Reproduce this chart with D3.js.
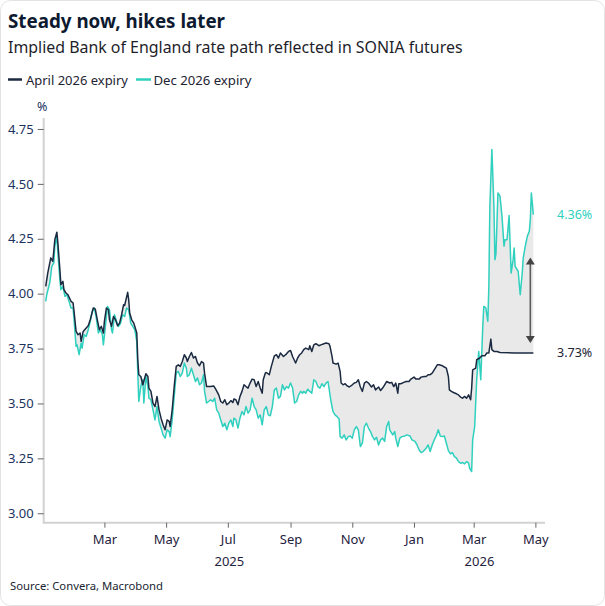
<!DOCTYPE html>
<html><head><meta charset="utf-8">
<script src="https://cdn.jsdelivr.net/npm/d3@7"></script>
<style>body{margin:0;background:#fff}svg{display:block}text{font-family:"Noto Sans","Open Sans",sans-serif}</style>
</head><body><svg id="c" width="605" height="606"></svg>
<script>
const aprilSeries = [["2025-01-02",4.033],["2025-01-04",4.094],["2025-01-07",4.163],["2025-01-09",4.147],["2025-01-11",4.246],["2025-01-13",4.280],["2025-01-14",4.231],["2025-01-16",4.109],["2025-01-17",4.041],["2025-01-19",4.056],["2025-01-20",4.018],["2025-01-22",4.003],["2025-01-24",3.995],["2025-01-27",3.965],["2025-01-29",3.958],["2025-01-30",3.919],["2025-02-01",3.828],["2025-02-03",3.813],["2025-02-05",3.821],["2025-02-06",3.783],["2025-02-08",3.828],["2025-02-11",3.844],["2025-02-13",3.854],["2025-02-15",3.881],["2025-02-18",3.935],["2025-02-20",3.930],["2025-02-22",3.881],["2025-02-24",3.836],["2025-02-26",3.851],["2025-02-28",3.821],["2025-03-01",3.874],["2025-03-03",3.935],["2025-03-05",3.927],["2025-03-06",3.881],["2025-03-08",3.851],["2025-03-10",3.896],["2025-03-12",3.881],["2025-03-14",3.854],["2025-03-16",3.866],["2025-03-18",3.904],["2025-03-20",3.950],["2025-03-21",3.946],["2025-03-24",4.006],["2025-03-25",3.973],["2025-03-26",3.912],["2025-03-28",3.881],["2025-03-30",3.866],["2025-04-02",3.821],["2025-04-03",3.700],["2025-04-04",3.631],["2025-04-06",3.623],["2025-04-08",3.585],["2025-04-11",3.635],["2025-04-13",3.623],["2025-04-14",3.570],["2025-04-16",3.555],["2025-04-18",3.502],["2025-04-20",3.486],["2025-04-22",3.532],["2025-04-24",3.471],["2025-04-26",3.433],["2025-04-28",3.403],["2025-04-30",3.380],["2025-05-02",3.425],["2025-05-04",3.418],["2025-05-05",3.395],["2025-05-07",3.471],["2025-05-09",3.577],["2025-05-11",3.669],["2025-05-13",3.676],["2025-05-15",3.669],["2025-05-17",3.691],["2025-05-19",3.722],["2025-05-21",3.707],["2025-05-22",3.691],["2025-05-24",3.714],["2025-05-26",3.732],["2025-05-28",3.707],["2025-05-30",3.714],["2025-06-01",3.684],["2025-06-03",3.672],["2025-06-05",3.691],["2025-06-07",3.684],["2025-06-08",3.638],["2025-06-10",3.577],["2025-06-12",3.577],["2025-06-14",3.577],["2025-06-17",3.580],["2025-06-19",3.565],["2025-06-22",3.539],["2025-06-24",3.509],["2025-06-26",3.502],["2025-06-28",3.517],["2025-06-30",3.494],["2025-07-02",3.502],["2025-07-04",3.513],["2025-07-06",3.504],["2025-07-07",3.520],["2025-07-09",3.517],["2025-07-11",3.494],["2025-07-13",3.532],["2025-07-15",3.555],["2025-07-17",3.585],["2025-07-19",3.577],["2025-07-21",3.570],["2025-07-23",3.593],["2025-07-25",3.611],["2025-07-27",3.608],["2025-07-29",3.577],["2025-07-31",3.600],["2025-08-02",3.570],["2025-08-04",3.547],["2025-08-05",3.608],["2025-08-07",3.638],["2025-08-08",3.641],["2025-08-11",3.631],["2025-08-13",3.669],["2025-08-16",3.717],["2025-08-18",3.722],["2025-08-20",3.707],["2025-08-22",3.730],["2025-08-25",3.714],["2025-08-28",3.726],["2025-08-30",3.737],["2025-09-01",3.741],["2025-09-03",3.714],["2025-09-06",3.684],["2025-09-08",3.707],["2025-09-10",3.722],["2025-09-12",3.730],["2025-09-14",3.745],["2025-09-16",3.752],["2025-09-19",3.745],["2025-09-20",3.763],["2025-09-22",3.737],["2025-09-24",3.767],["2025-09-26",3.772],["2025-09-29",3.763],["2025-10-01",3.767],["2025-10-04",3.772],["2025-10-06",3.775],["2025-10-09",3.772],["2025-10-10",3.760],["2025-10-12",3.714],["2025-10-13",3.684],["2025-10-16",3.679],["2025-10-18",3.684],["2025-10-20",3.646],["2025-10-21",3.593],["2025-10-23",3.585],["2025-10-25",3.590],["2025-10-27",3.580],["2025-10-29",3.575],["2025-11-01",3.585],["2025-11-03",3.593],["2025-11-05",3.596],["2025-11-07",3.608],["2025-11-09",3.575],["2025-11-11",3.555],["2025-11-13",3.593],["2025-11-15",3.600],["2025-11-17",3.593],["2025-11-20",3.575],["2025-11-22",3.585],["2025-11-24",3.562],["2025-11-27",3.575],["2025-11-29",3.559],["2025-12-01",3.570],["2025-12-03",3.585],["2025-12-05",3.600],["2025-12-08",3.593],["2025-12-10",3.596],["2025-12-12",3.577],["2025-12-14",3.593],["2025-12-16",3.547],["2025-12-17",3.590],["2025-12-19",3.590],["2025-12-22",3.596],["2025-12-24",3.600],["2025-12-27",3.600],["2025-12-29",3.611],["2026-01-01",3.620],["2026-01-03",3.611],["2026-01-06",3.611],["2026-01-08",3.620],["2026-01-11",3.623],["2026-01-13",3.623],["2026-01-15",3.631],["2026-01-17",3.631],["2026-01-19",3.638],["2026-01-21",3.653],["2026-01-24",3.676],["2026-01-26",3.676],["2026-01-29",3.672],["2026-01-31",3.666],["2026-02-02",3.661],["2026-02-04",3.623],["2026-02-05",3.562],["2026-02-07",3.555],["2026-02-09",3.550],["2026-02-12",3.544],["2026-02-14",3.539],["2026-02-16",3.529],["2026-02-18",3.524],["2026-02-20",3.532],["2026-02-22",3.524],["2026-02-24",3.539],["2026-02-26",3.517],["2026-02-27",3.570],["2026-02-28",3.653],["2026-03-03",3.661],["2026-03-04",3.699],["2026-03-07",3.707],["2026-03-09",3.717],["2026-03-12",3.717],["2026-03-14",3.730],["2026-03-16",3.730],["2026-03-18",3.793],["2026-03-19",3.745],["2026-03-21",3.737],["2026-03-24",3.737],["2026-03-27",3.732],["2026-04-10",3.730],["2026-04-20",3.730],["2026-04-29",3.730]];

const decSeries = [["2025-01-02",3.965],["2025-01-03",3.995],["2025-01-06",4.049],["2025-01-08",4.124],["2025-01-10",4.140],["2025-01-11",4.216],["2025-01-13",4.261],["2025-01-14",4.186],["2025-01-16",4.064],["2025-01-17",4.018],["2025-01-19",4.033],["2025-01-21",3.988],["2025-01-23",3.995],["2025-01-25",3.965],["2025-01-27",3.935],["2025-01-29",3.935],["2025-01-30",3.881],["2025-02-01",3.760],["2025-02-02",3.767],["2025-02-04",3.722],["2025-02-06",3.775],["2025-02-07",3.752],["2025-02-09",3.813],["2025-02-11",3.805],["2025-02-13",3.836],["2025-02-15",3.874],["2025-02-17",3.919],["2025-02-19",3.935],["2025-02-21",3.889],["2025-02-23",3.821],["2025-02-25",3.836],["2025-02-27",3.813],["2025-02-28",3.767],["2025-03-02",3.851],["2025-03-04",3.942],["2025-03-06",3.927],["2025-03-08",3.836],["2025-03-09",3.821],["2025-03-11",3.904],["2025-03-13",3.874],["2025-03-15",3.851],["2025-03-17",3.866],["2025-03-19",3.904],["2025-03-21",3.896],["2025-03-23",3.935],["2025-03-25",3.927],["2025-03-27",3.866],["2025-03-29",3.851],["2025-03-31",3.836],["2025-04-02",3.783],["2025-04-03",3.638],["2025-04-04",3.509],["2025-04-06",3.577],["2025-04-08",3.608],["2025-04-09",3.502],["2025-04-11",3.623],["2025-04-13",3.577],["2025-04-14",3.524],["2025-04-16",3.517],["2025-04-18",3.471],["2025-04-20",3.425],["2025-04-22",3.486],["2025-04-24",3.418],["2025-04-26",3.388],["2025-04-28",3.357],["2025-04-30",3.342],["2025-05-02",3.380],["2025-05-04",3.372],["2025-05-05",3.349],["2025-05-07",3.425],["2025-05-09",3.532],["2025-05-11",3.638],["2025-05-13",3.646],["2025-05-15",3.623],["2025-05-17",3.638],["2025-05-19",3.684],["2025-05-21",3.661],["2025-05-22",3.623],["2025-05-24",3.631],["2025-05-26",3.661],["2025-05-28",3.631],["2025-05-30",3.600],["2025-06-01",3.616],["2025-06-03",3.585],["2025-06-05",3.593],["2025-06-07",3.631],["2025-06-08",3.555],["2025-06-10",3.502],["2025-06-12",3.509],["2025-06-14",3.517],["2025-06-16",3.509],["2025-06-18",3.524],["2025-06-20",3.471],["2025-06-22",3.456],["2025-06-24",3.425],["2025-06-26",3.395],["2025-06-28",3.410],["2025-06-30",3.380],["2025-07-02",3.410],["2025-07-04",3.425],["2025-07-06",3.395],["2025-07-07",3.433],["2025-07-09",3.425],["2025-07-11",3.388],["2025-07-13",3.433],["2025-07-15",3.463],["2025-07-17",3.448],["2025-07-19",3.486],["2025-07-21",3.456],["2025-07-23",3.471],["2025-07-25",3.524],["2025-07-27",3.486],["2025-07-29",3.471],["2025-07-31",3.433],["2025-08-02",3.448],["2025-08-04",3.403],["2025-08-06",3.471],["2025-08-08",3.486],["2025-08-10",3.448],["2025-08-12",3.444],["2025-08-14",3.486],["2025-08-16",3.562],["2025-08-18",3.570],["2025-08-20",3.524],["2025-08-22",3.532],["2025-08-24",3.585],["2025-08-26",3.562],["2025-08-28",3.577],["2025-08-30",3.570],["2025-09-01",3.593],["2025-09-03",3.570],["2025-09-05",3.502],["2025-09-07",3.509],["2025-09-09",3.539],["2025-09-11",3.555],["2025-09-13",3.547],["2025-09-14",3.555],["2025-09-16",3.547],["2025-09-18",3.565],["2025-09-20",3.555],["2025-09-22",3.547],["2025-09-24",3.608],["2025-09-26",3.600],["2025-09-28",3.577],["2025-09-30",3.570],["2025-10-02",3.590],["2025-10-04",3.577],["2025-10-06",3.593],["2025-10-08",3.600],["2025-10-09",3.570],["2025-10-11",3.509],["2025-10-13",3.463],["2025-10-15",3.448],["2025-10-17",3.440],["2025-10-19",3.429],["2025-10-20",3.349],["2025-10-22",3.342],["2025-10-24",3.357],["2025-10-26",3.334],["2025-10-28",3.349],["2025-10-30",3.352],["2025-11-01",3.342],["2025-11-03",3.380],["2025-11-05",3.395],["2025-11-07",3.380],["2025-11-09",3.304],["2025-11-11",3.319],["2025-11-13",3.395],["2025-11-15",3.410],["2025-11-17",3.388],["2025-11-19",3.372],["2025-11-21",3.349],["2025-11-23",3.334],["2025-11-25",3.346],["2025-11-27",3.311],["2025-11-29",3.334],["2025-12-01",3.342],["2025-12-03",3.327],["2025-12-05",3.395],["2025-12-07",3.418],["2025-12-08",3.380],["2025-12-11",3.357],["2025-12-13",3.372],["2025-12-14",3.342],["2025-12-16",3.304],["2025-12-18",3.342],["2025-12-20",3.349],["2025-12-23",3.352],["2025-12-25",3.357],["2025-12-28",3.352],["2025-12-30",3.334],["2026-01-02",3.327],["2026-01-04",3.311],["2026-01-06",3.289],["2026-01-08",3.276],["2026-01-10",3.281],["2026-01-13",3.296],["2026-01-15",3.311],["2026-01-17",3.281],["2026-01-19",3.311],["2026-01-21",3.334],["2026-01-23",3.352],["2026-01-25",3.380],["2026-01-27",3.352],["2026-01-29",3.349],["2026-01-31",3.352],["2026-02-02",3.319],["2026-02-04",3.285],["2026-02-06",3.270],["2026-02-08",3.276],["2026-02-10",3.258],["2026-02-12",3.251],["2026-02-14",3.235],["2026-02-16",3.228],["2026-02-18",3.231],["2026-02-20",3.225],["2026-02-22",3.235],["2026-02-24",3.228],["2026-02-25",3.205],["2026-02-27",3.190],["2026-02-28",3.334],["2026-03-02",3.395],["2026-03-03",3.502],["2026-03-04",3.608],["2026-03-06",3.737],["2026-03-08",3.608],["2026-03-09",3.730],["2026-03-10",3.851],["2026-03-11",3.942],["2026-03-13",3.935],["2026-03-15",3.874],["2026-03-16",4.033],["2026-03-17",4.398],["2026-03-19",4.657],["2026-03-21",4.398],["2026-03-22",4.155],["2026-03-23",4.180],["2026-03-25",4.459],["2026-03-27",4.444],["2026-03-29",4.352],["2026-03-31",4.216],["2026-04-01",4.246],["2026-04-03",4.246],["2026-04-05",4.356],["2026-04-06",4.231],["2026-04-07",4.094],["2026-04-09",4.155],["2026-04-10",4.208],["2026-04-11",4.124],["2026-04-13",4.109],["2026-04-14",4.102],["2026-04-16",3.995],["2026-04-18",4.094],["2026-04-19",4.163],["2026-04-21",4.216],["2026-04-23",4.261],["2026-04-25",4.284],["2026-04-26",4.337],["2026-04-27",4.459],["2026-04-29",4.360]];

const seriesNames = ["April 2026 expiry","Dec 2026 expiry"];
const yTickValues = [3.00,3.25,3.50,3.75,4.00,4.25,4.50,4.75];
const monthTickDates = ["2025-03-01","2025-05-01","2025-07-01","2025-09-01","2025-11-01","2026-01-01","2026-03-01","2026-05-01"];
const yearLabelValues = ["2025","2026"];
const xDomainDates = ["2024-12-31","2026-05-10T12:00"];
const yDomainValues = [2.957,4.80];
const endLabelValues = [4.36,3.73];
const arrowSpan = {date:"2026-04-26", from:4.165, to:3.775};
const titleText = "Steady now, hikes later";
const subtitleText = "Implied Bank of England rate path reflected in SONIA futures";
const sourceText = "Source: Convera, Macrobond";

const NAVY = "#1b2a41", TEAL = "#2fd0be", FILL = "#e9e9e9";
const parse = s => new Date(s.length>10 ? s : s+"T00:00");
const april = aprilSeries.map(d=>({date:parse(d[0]),v:d[1]}));
const dec = decSeries.map(d=>({date:parse(d[0]),v:d[1]}));

const svg = d3.select("#c");
svg.append("rect").attr("x",0.5).attr("y",0.5).attr("width",604).attr("height",605).attr("rx",10).attr("fill","#fff").attr("stroke","#e3e3e3");

const x = d3.scaleTime().domain(xDomainDates.map(parse)).range([43.7,545]);
const y = d3.scaleLinear().domain(yDomainValues).range([522.7,118]);

function fit(sel,w){const l=sel.node().getComputedTextLength();const fs=parseFloat(sel.attr("font-size"));sel.attr("font-size",(fs*w/l).toFixed(2));}

// titles
fit(svg.append("text").attr("x",8).attr("y",28).attr("font-size",19).attr("font-weight",700).attr("fill","#0d1a30").text(titleText),217);
fit(svg.append("text").attr("x",8).attr("y",53).attr("font-size",16).attr("fill","#1e1e2a").text(subtitleText),455);

// legend
const lg = svg.append("g");
const legX = [[8,22,26,102],[136,151,153.5,98]];
seriesNames.forEach((n,i)=>{
  lg.append("line").attr("x1",legX[i][0]).attr("x2",legX[i][1]).attr("y1",79.5).attr("y2",79.5).attr("stroke",i?TEAL:NAVY).attr("stroke-width",2.5);
  fit(lg.append("text").attr("x",legX[i][2]).attr("y",84.5).attr("font-size",13.5).attr("fill","#1e2433").text(n),legX[i][3]);
});

// fill between
const line = d3.line().x(d=>x(d.date)).y(d=>y(d.v));
svg.append("path").attr("d",line([...april,...dec.slice().reverse()])+"Z").attr("fill",FILL);

// axes
const yAxis = svg.append("g").attr("transform","translate(43.7,0)")
  .call(d3.axisLeft(y).tickValues(yTickValues).tickFormat(d3.format(".2f")).tickSize(6).tickPadding(4));
yAxis.select(".domain").attr("stroke","#d2d2d2").attr("stroke-width",2).attr("d","M0,118V523.7");
yAxis.selectAll(".tick line").attr("stroke","#666");
yAxis.selectAll(".tick text").attr("font-size",13).attr("fill","#1c3360").attr("font-family","Noto Sans");

const xAxis = svg.append("g").attr("transform","translate(0,522.7)")
  .call(d3.axisBottom(x).tickValues(monthTickDates.map(parse)).tickFormat(d3.timeFormat("%b")).tickSize(5).tickPadding(7));
xAxis.select(".domain").attr("stroke","#d2d2d2").attr("stroke-width",2).attr("d","M43.7,0H545");
xAxis.selectAll(".tick line").attr("stroke","#666");
xAxis.selectAll(".tick text").attr("font-size",13).attr("fill","#1f2240").attr("font-family","Noto Sans");

const [d0,d1] = x.domain();
yearLabelValues.forEach(yr=>{
  const s = new Date(Math.max(+parse(yr+"-01-01"),+d0)), e = new Date(Math.min(+parse((+yr+1)+"-01-01"),+d1));
  svg.append("text").attr("x",(x(s)+x(e))/2).attr("y",566).attr("text-anchor","middle").attr("font-size",13).attr("fill","#1f2240").text(yr);
});

svg.append("text").attr("x",37).attr("y",111).attr("font-size",12.5).attr("fill","#1c3360").text("%");

// lines
svg.append("path").attr("d",line(dec)).attr("fill","none").attr("stroke",TEAL).attr("stroke-width",1.5).attr("stroke-linejoin","round");
svg.append("path").attr("d",line(april)).attr("fill","none").attr("stroke",NAVY).attr("stroke-width",1.5).attr("stroke-linejoin","round");

// arrow
const ax = x(parse(arrowSpan.date)), ay1 = y(arrowSpan.from), ay2 = y(arrowSpan.to);
svg.append("line").attr("x1",ax).attr("x2",ax).attr("y1",ay1+4).attr("y2",ay2-4).attr("stroke","#5a5a5a").attr("stroke-width",1.6);
svg.append("path").attr("d",`M${ax},${ay1}l-4.5,7h9z`).attr("fill","#444");
svg.append("path").attr("d",`M${ax},${ay2}l-4.5,-7h9z`).attr("fill","#444");

// end labels
endLabelValues.forEach((v,i)=>{
  svg.append("text").attr("x",557).attr("y",y(v)+4.5).attr("font-size",12.5).attr("fill",i?"#1e2433":TEAL).text(d3.format(".2f")(v)+"%");
});

fit(svg.append("text").attr("x",10).attr("y",590).attr("font-size",12).attr("fill","#1a1f33").text(sourceText),153);
</script></body></html>
